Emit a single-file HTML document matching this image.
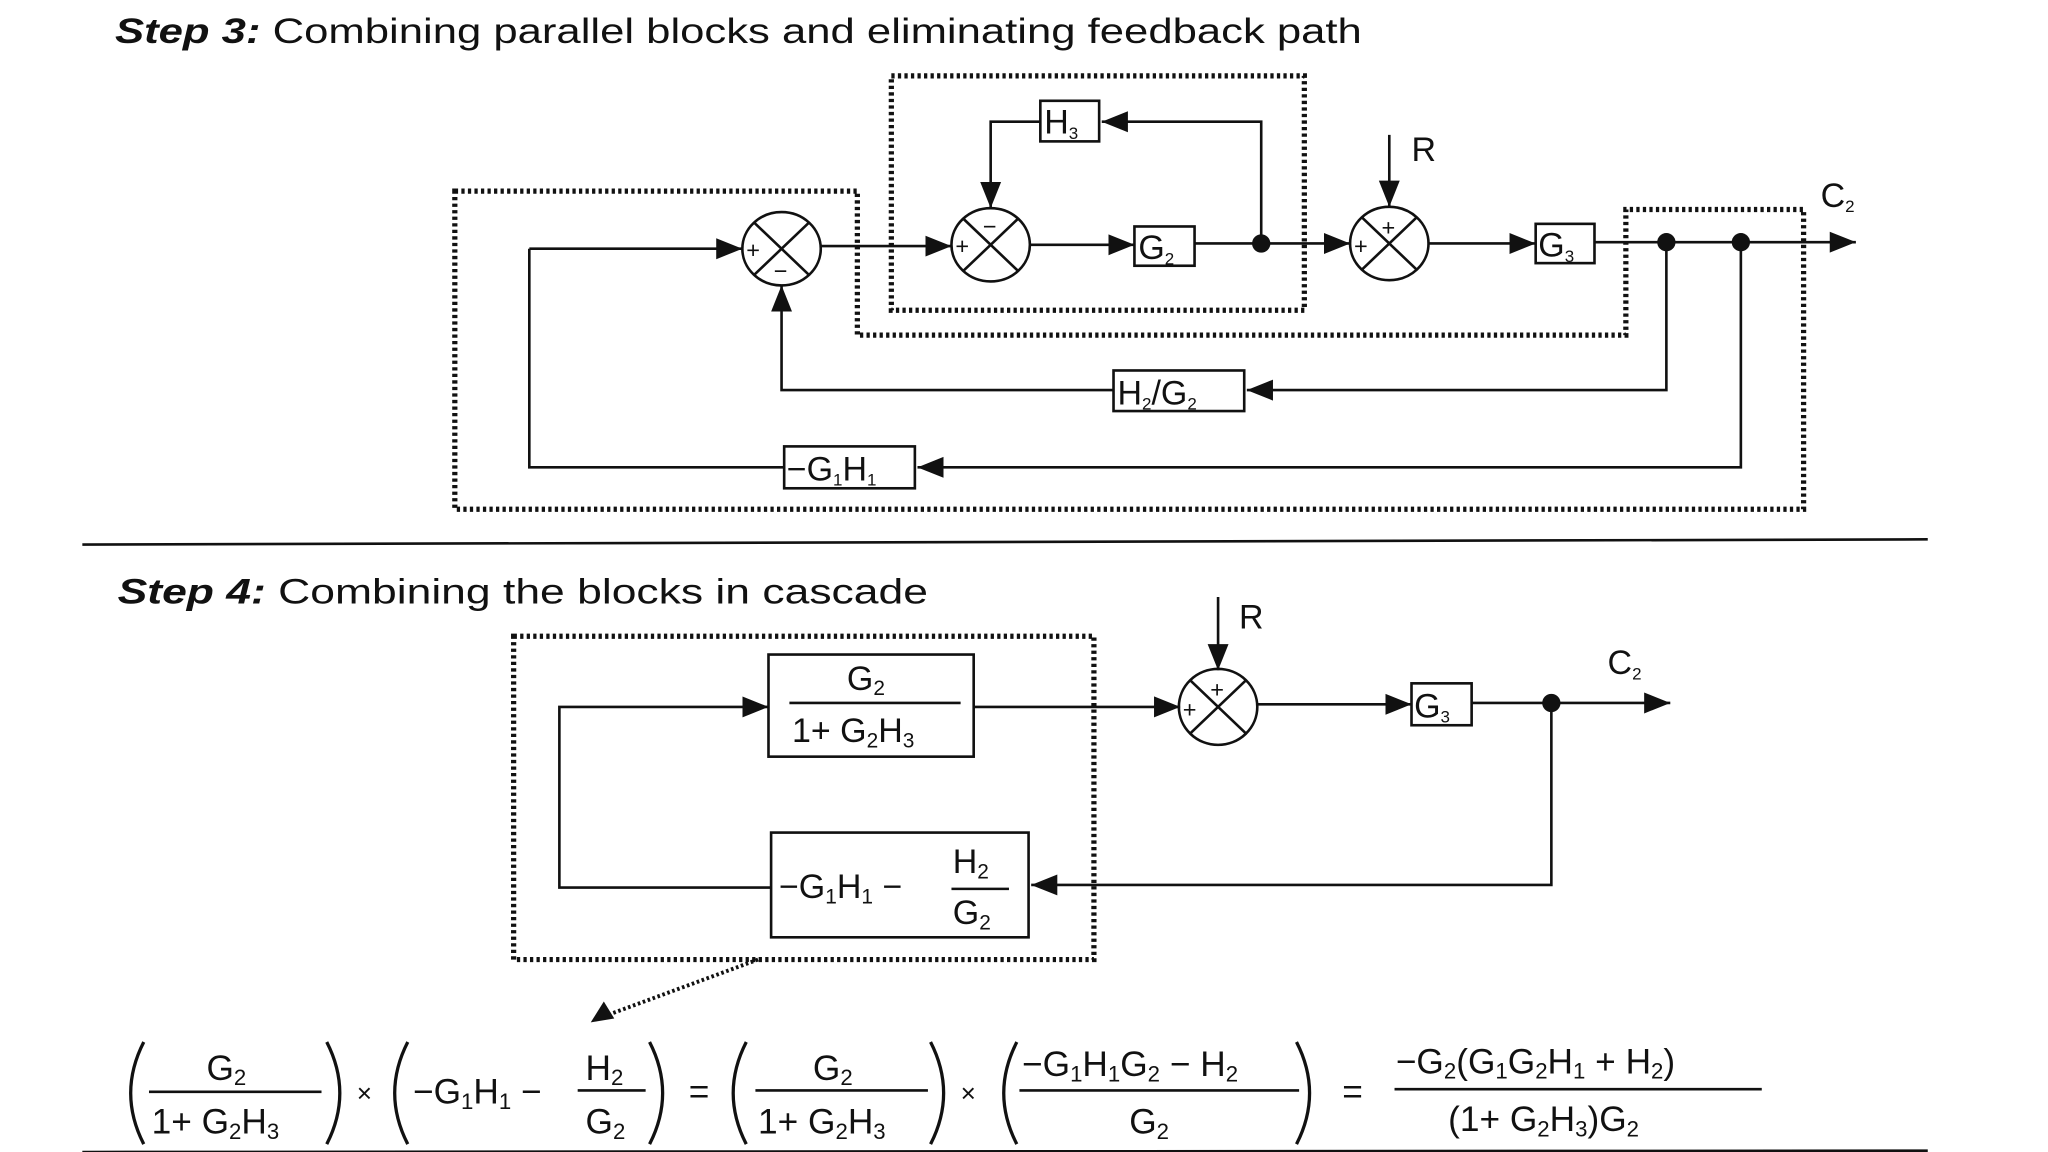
<!DOCTYPE html>
<html><head><meta charset="utf-8"><style>
html,body{margin:0;padding:0;background:#fff;}
svg{display:block;}
text{font-family:"Liberation Sans",sans-serif;fill:#111;}
</style></head><body>
<svg width="2048" height="1152" viewBox="0 0 1567 880" preserveAspectRatio="none" xmlns="http://www.w3.org/2000/svg">
<defs>
<marker id="a" markerUnits="userSpaceOnUse" markerWidth="22" markerHeight="22" refX="20" refY="10" orient="auto"><path d="M0,2 L20,10 L0,18 Z" fill="#111"/></marker>
</defs>
<rect width="1567" height="880" fill="#fff"/>
<g stroke="#111" stroke-width="2" fill="none">
<g stroke-width="4" stroke-dasharray="2.5,2.5">
<rect x="682" y="58" width="316" height="179"/>
<path d="M348,146 H656 V256 H1244 V160 H1380 V389 H348 Z"/>
</g>
<line x1="405" y1="190" x2="568" y2="190" marker-end="url(#a)"/>
<line x1="628" y1="188" x2="728" y2="188" marker-end="url(#a)"/>
<line x1="788" y1="187" x2="868" y2="187" marker-end="url(#a)"/>
<line x1="914" y1="186" x2="1033" y2="186" marker-end="url(#a)"/>
<line x1="1093" y1="186" x2="1175" y2="186" marker-end="url(#a)"/>
<line x1="1220" y1="185" x2="1420" y2="185" marker-end="url(#a)"/>
<ellipse cx="598" cy="190" rx="30" ry="28"/>
<path d="M577,170 L619,210 M619,170 L577,210"/>
<ellipse cx="758" cy="187" rx="30" ry="28"/>
<path d="M737,167 L779,207 M779,167 L737,207"/>
<ellipse cx="1063" cy="186" rx="30" ry="28"/>
<path d="M1042,166 L1084,206 M1084,166 L1042,206"/>
<rect x="868" y="173" width="46" height="30"/>
<rect x="796" y="77" width="45" height="31"/>
<rect x="1175" y="171" width="45" height="30"/>
<rect x="852" y="283" width="100" height="31"/>
<rect x="600" y="341" width="100" height="32"/>
<path d="M965,186 V93 H843" marker-end="url(#a)"/>
<path d="M796,93 H758 V159" marker-end="url(#a)"/>
<line x1="1063" y1="103" x2="1063" y2="158" marker-end="url(#a)"/>
<path d="M1275,185 V298 H954" marker-end="url(#a)"/>
<path d="M852,298 H598 V218" marker-end="url(#a)"/>
<path d="M1332,185 V357 H702" marker-end="url(#a)"/>
<path d="M600,357 H405 V190"/>
<line x1="63" y1="416" x2="1475" y2="412"/>
<line x1="63" y1="880" x2="1475" y2="879"/>
<rect x="393" y="486" width="444" height="247" stroke-width="4" stroke-dasharray="2.5,2.5"/>
<rect x="588" y="500" width="157" height="78"/>
<line x1="604" y1="537" x2="735" y2="537"/>
<rect x="590" y="636" width="197" height="80"/>
<line x1="728" y1="679" x2="772" y2="679"/>
<path d="M590,678 H428 V540 H588" marker-end="url(#a)"/>
<line x1="745" y1="540" x2="903" y2="540" marker-end="url(#a)"/>
<ellipse cx="932" cy="540" rx="30" ry="29"/>
<path d="M911,520 L953,560 M953,520 L911,560"/>
<line x1="932" y1="456" x2="932" y2="512" marker-end="url(#a)"/>
<line x1="962" y1="538" x2="1080" y2="538" marker-end="url(#a)"/>
<rect x="1080" y="522" width="46" height="32"/>
<line x1="1126" y1="537" x2="1278" y2="537" marker-end="url(#a)"/>
<path d="M1187,537 V676 H789" marker-end="url(#a)"/>
<line x1="580" y1="733" x2="455" y2="779" stroke-width="3" stroke-dasharray="2,2"/>
<path d="M452,781 L462,765 L470,778 Z" fill="#111" stroke="none"/>
<g stroke-width="2.5">
<path d="M110,796 Q90,835 110,874"/><path d="M250,796 Q270,835 250,874"/>
<path d="M312,796 Q292,835 312,874"/><path d="M497,796 Q517,835 497,874"/>
<path d="M571,796 Q551,835 571,874"/><path d="M712,796 Q732,835 712,874"/>
<path d="M778,796 Q758,835 778,874"/><path d="M992,796 Q1012,835 992,874"/>
</g>
<line x1="114" y1="834" x2="246" y2="834"/>
<line x1="442" y1="833" x2="494" y2="833"/>
<line x1="578" y1="833" x2="710" y2="833"/>
<line x1="780" y1="833" x2="994" y2="833"/>
<line x1="1067" y1="832" x2="1348" y2="832"/>
</g>
<g fill="#111">
<circle cx="965" cy="186" r="7"/><circle cx="1275" cy="185" r="7"/><circle cx="1332" cy="185" r="7"/><circle cx="1187" cy="537" r="7"/>
</g>
<text x="88" y="33" font-size="27" textLength="954" lengthAdjust="spacingAndGlyphs"><tspan font-style="italic" font-weight="bold">Step 3:</tspan> Combining parallel blocks and eliminating feedback path</text>
<text x="90" y="461" font-size="27" textLength="620" lengthAdjust="spacingAndGlyphs"><tspan font-style="italic" font-weight="bold">Step 4:</tspan> Combining the blocks in cascade</text>
<g font-size="18">
<text x="571" y="197">+</text><text x="592" y="213">−</text>
<text x="731" y="194">+</text><text x="752" y="179">−</text>
<text x="1036" y="194">+</text><text x="1057" y="180">+</text>
<text x="905" y="548">+</text><text x="926" y="533">+</text>
</g>
<g font-size="26">
<text x="871" y="198">G<tspan font-size="13" dy="4">2</tspan></text>
<text x="799" y="102">H<tspan font-size="13" dy="4">3</tspan></text>
<text x="1177" y="196">G<tspan font-size="13" dy="4">3</tspan></text>
<text x="1082" y="548">G<tspan font-size="13" dy="4">3</tspan></text>
<text x="855" y="309">H<tspan font-size="13" dy="4">2</tspan><tspan dy="-4">/G</tspan><tspan font-size="13" dy="4">2</tspan></text>
<text x="602" y="367">−G<tspan font-size="13" dy="4">1</tspan><tspan dy="-4">H</tspan><tspan font-size="13" dy="4">1</tspan></text>
<text x="1080" y="123">R</text>
<text x="948" y="480">R</text>
<text x="1393" y="158">C<tspan font-size="13" dy="4">2</tspan></text>
<text x="1230" y="515">C<tspan font-size="13" dy="4">2</tspan></text>
<text x="648" y="527">G<tspan font-size="16" dy="4">2</tspan></text>
<text x="606" y="567">1+ G<tspan font-size="16" dy="4">2</tspan><tspan dy="-4">H</tspan><tspan font-size="16" dy="4">3</tspan></text>
<text x="596" y="686">−G<tspan font-size="16" dy="4">1</tspan><tspan dy="-4">H</tspan><tspan font-size="16" dy="4">1</tspan><tspan dy="-4"> −</tspan></text>
<text x="729" y="667">H<tspan font-size="16" dy="4">2</tspan></text>
<text x="729" y="706">G<tspan font-size="16" dy="4">2</tspan></text>
</g>
<g font-size="27">
<text x="158" y="825">G<tspan font-size="17" dy="4">2</tspan></text>
<text x="116" y="866">1+ G<tspan font-size="17" dy="4">2</tspan><tspan dy="-4">H</tspan><tspan font-size="17" dy="4">3</tspan></text>
<text x="273" y="842" font-size="20">×</text>
<text x="316" y="843">−G<tspan font-size="17" dy="4">1</tspan><tspan dy="-4">H</tspan><tspan font-size="17" dy="4">1</tspan><tspan dy="-4"> −</tspan></text>
<text x="448" y="825">H<tspan font-size="17" dy="4">2</tspan></text>
<text x="448" y="866">G<tspan font-size="17" dy="4">2</tspan></text>
<text x="527" y="843">=</text>
<text x="622" y="825">G<tspan font-size="17" dy="4">2</tspan></text>
<text x="580" y="866">1+ G<tspan font-size="17" dy="4">2</tspan><tspan dy="-4">H</tspan><tspan font-size="17" dy="4">3</tspan></text>
<text x="735" y="842" font-size="20">×</text>
<text x="782" y="822">−G<tspan font-size="17" dy="4">1</tspan><tspan dy="-4">H</tspan><tspan font-size="17" dy="4">1</tspan><tspan dy="-4">G</tspan><tspan font-size="17" dy="4">2</tspan><tspan dy="-4"> − H</tspan><tspan font-size="17" dy="4">2</tspan></text>
<text x="864" y="866">G<tspan font-size="17" dy="4">2</tspan></text>
<text x="1027" y="843">=</text>
<text x="1068" y="820">−G<tspan font-size="17" dy="4">2</tspan><tspan dy="-4">(G</tspan><tspan font-size="17" dy="4">1</tspan><tspan dy="-4">G</tspan><tspan font-size="17" dy="4">2</tspan><tspan dy="-4">H</tspan><tspan font-size="17" dy="4">1</tspan><tspan dy="-4"> + H</tspan><tspan font-size="17" dy="4">2</tspan><tspan dy="-4">)</tspan></text>
<text x="1108" y="864">(1+ G<tspan font-size="17" dy="4">2</tspan><tspan dy="-4">H</tspan><tspan font-size="17" dy="4">3</tspan><tspan dy="-4">)G</tspan><tspan font-size="17" dy="4">2</tspan></text>
</g>
</svg>
</body></html>
